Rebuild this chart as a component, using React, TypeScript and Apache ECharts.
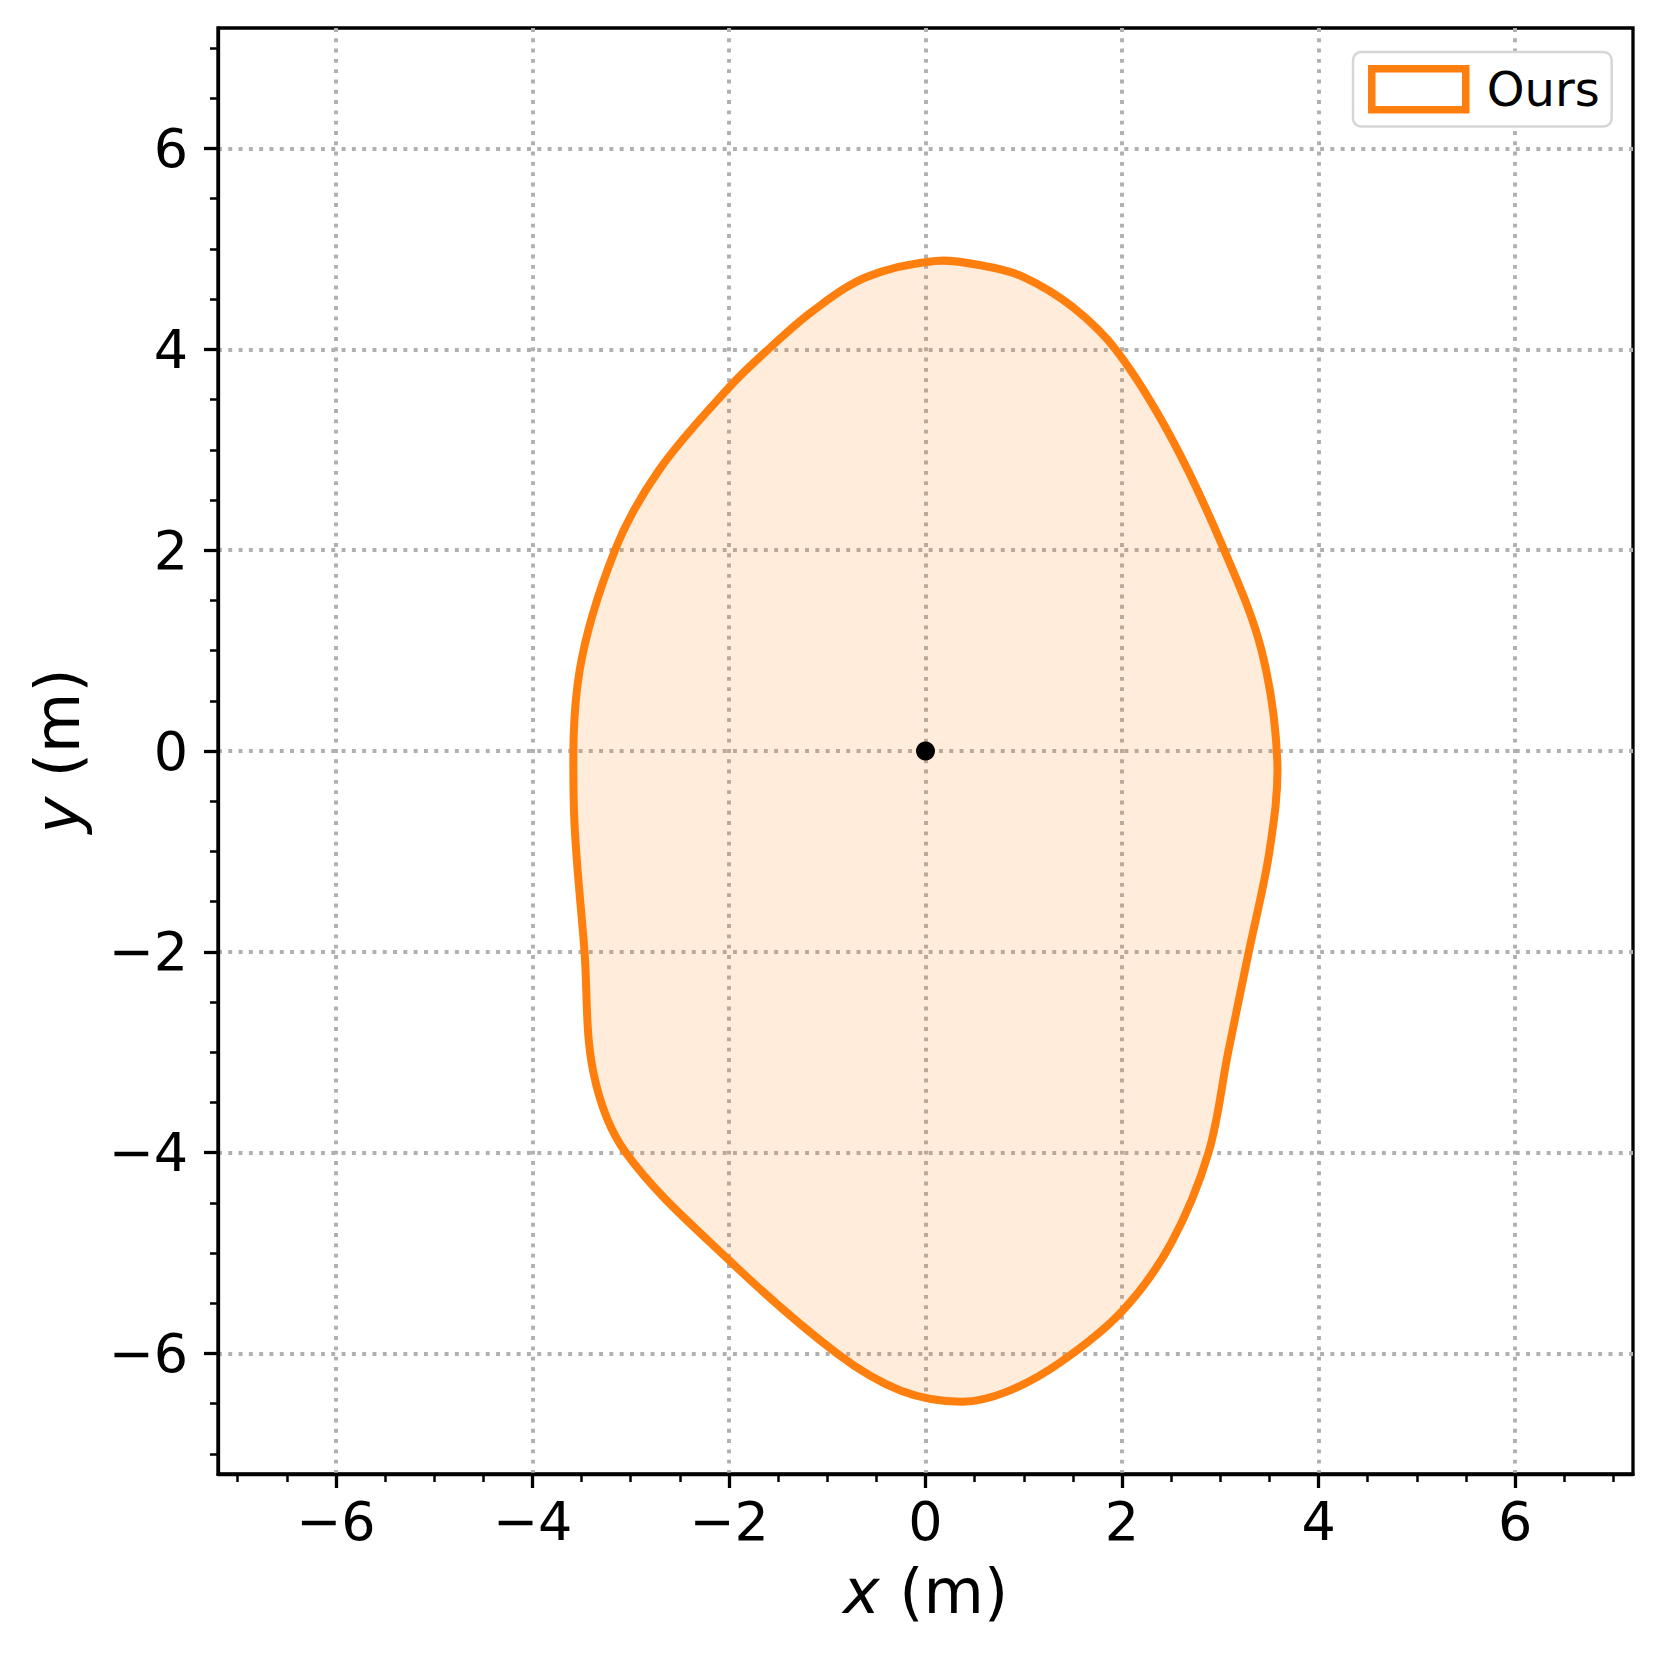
import React, { useEffect, useRef } from "react";
import * as echarts from "echarts";

// Closed boundary of the region "Ours" (x, y in metres), clockwise from the top
const boundaryX = [0.1, 0.6, 1.0, 1.5, 1.95, 2.5, 3.04, 3.42, 3.58, 3.5, 3.29, 3.08, 2.88, 2.5, 2.0, 1.37, 0.83, 0.37, -0.25, -0.9, -2.0, -3.05, -3.38, -3.47, -3.58, -3.52, -3.16, -2.71, -2.0, -1.6, -1.15, -0.6];
const boundaryY = [4.88, 4.83, 4.72, 4.42, 3.98, 3.12, 2.0, 1.0, -0.1, -1.0, -2.0, -3.0, -4.0, -4.9, -5.58, -6.09, -6.38, -6.48, -6.37, -6.0, -5.07, -4.0, -3.2, -2.0, -0.5, 0.8, 2.0, 2.8, 3.62, 4.0, 4.38, 4.72];
const originPoint = [0, 0];

const majorTicks = [-6, -4, -2, 0, 2, 4, 6];
const minorTicks = [-7, -6.5, -5.5, -5, -4.5, -3.5, -3, -2.5, -1.5, -1, -0.5, 0.5, 1, 1.5, 2.5, 3, 3.5, 4.5, 5, 5.5, 6.5, 7];
const axisMin = -7.2;
const axisMax = 7.2;
const seriesName = "Ours";

const FONT = "DejaVu Sans";
const ORANGE = "#ff7f0e";

export default function App() {
  const ref = useRef<HTMLDivElement>(null);
  useEffect(() => {
    const chart = echarts.init(ref.current!, null, { renderer: "svg" });
    const pts = boundaryX.map((x, i) => [x, boundaryY[i]]);
    const fmt = (v: number) => String(v).replace("-", "\u2212");
    const gridLine = { show: true, lineStyle: { color: "#b0b0b0", width: 3.9, type: [3.9, 6.4] as any, cap: "butt" } };
    const mainAxisCommon = (dim: "x" | "y") => ({
      type: "value",
      min: axisMin,
      max: axisMax,
      axisLine: { show: true, onZero: false, lineStyle: { color: "#000", width: 3.3 } },
      axisTick: { show: true, customValues: majorTicks, length: 14, lineStyle: { color: "#000", width: 3.3 } },
      axisLabel: {
        show: true,
        customValues: majorTicks,
        formatter: fmt,
        fontFamily: FONT,
        fontSize: 54,
        color: "#000",
        margin: dim === "x" ? 20 : 30,
      },
      splitLine: gridLine,
      nameLocation: "middle",
      nameTextStyle: { fontFamily: FONT, fontSize: 62, color: "#000", rich: { i: { fontFamily: FONT, fontSize: 62, fontStyle: "italic", color: "#000" } } },
    });
    const minorAxis = (pos: string) => ({
      type: "value",
      min: axisMin,
      max: axisMax,
      position: pos,
      axisLine: { show: false, onZero: false },
      axisTick: { show: true, customValues: minorTicks, length: 8, lineStyle: { color: "#000", width: 2.5 } },
      axisLabel: { show: false },
      splitLine: { show: false },
    });
    chart.setOption({
      animation: false,
      grid: { left: 218, top: 28, width: 1415, height: 1446, show: true, borderColor: "#000", borderWidth: 3.3, backgroundColor: "transparent", containLabel: false },
      xAxis: [
        { ...mainAxisCommon("x"), position: "bottom", name: "{i|x} (m)", nameGap: 86 },
        minorAxis("bottom"),
      ],
      yAxis: [
        { ...mainAxisCommon("y"), position: "left", name: "{i|y} (m)", nameGap: 130 },
        minorAxis("left"),
      ],
      legend: {
        show: true,
        left: 1353,
        top: 52,
        orient: "vertical",
        padding: [13, 12, 13, 15],
        backgroundColor: "#fff",
        borderColor: "#d6d6d6",
        borderWidth: 2.5,
        borderRadius: 8,
        itemWidth: 94,
        itemHeight: 41,
        textStyle: { fontFamily: FONT, fontSize: 48, color: "#000", padding: [0, 0, 0, 16] },
        data: [{ name: seriesName, icon: "rect", itemStyle: { color: "rgba(0,0,0,0)", borderColor: ORANGE, borderWidth: 7.5 } }],
      },
      series: [
        {
          name: seriesName,
          type: "custom",
          xAxisIndex: 0,
          yAxisIndex: 0,
          data: pts,
          coordinateSystem: "cartesian2d",
          renderItem: (params: any, api: any) => {
            if (params.dataIndex !== 0) return null;
            const coords = pts.map((p) => api.coord(p));
            return {
              type: "polygon",
              shape: { points: coords, smooth: 0.34 },
              style: { fill: "rgba(255,127,14,0.15)", stroke: ORANGE, lineWidth: 8, lineJoin: "round" },
            };
          },
          itemStyle: { color: ORANGE },
          z: 3,
        },
        {
          name: "origin",
          type: "scatter",
          data: [originPoint],
          symbol: "circle",
          symbolSize: 19,
          itemStyle: { color: "#000", opacity: 1 },
          z: 4,
        },
      ],
    });
    return () => chart.dispose();
  }, []);
  return <div ref={ref} style={{ position: "absolute", left: 0, top: 0, width: 1662, height: 1661 }} />;
}
